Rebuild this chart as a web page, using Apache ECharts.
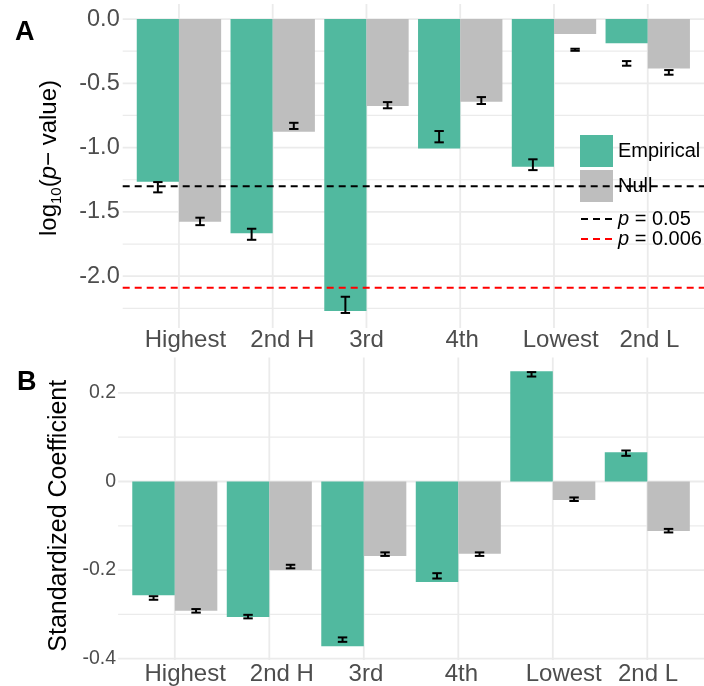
<!DOCTYPE html>
<html><head><meta charset="utf-8">
<script src="https://cdn.jsdelivr.net/npm/echarts@6/dist/echarts.min.js"></script>
<style>html,body{margin:0;padding:0;background:#fff}#c{width:704px;height:686px}</style>
</head><body><div id="c"></div>
<script>
// ---------------- data ----------------
const categories = ['Highest', '2nd H', '3rd', '4th', 'Lowest', '2nd L'];
const seriesNames = ['Empirical', 'Null'];

// Panel A: log10(p-value)
const logpEmpirical = [-1.265, -1.667, -2.270, -1.006, -1.148, -0.189];
const logpNull      = [-1.576, -0.876, -0.677, -0.643, -0.117, -0.384];
const logpEmpiricalErrMid  = [-1.308, -1.674, -2.223, -0.915, -1.133, -0.345];
const logpEmpiricalErrHalf = [0.040, 0.043, 0.063, 0.044, 0.042, 0.018];
const logpNullErrMid  = [-1.574, -0.831, -0.670, -0.634, -0.239, -0.415];
const logpNullErrHalf = [0.029, 0.024, 0.024, 0.027, 0.008, 0.018];
const thresholdNames  = ['p = 0.05', 'p = 0.006'];
const thresholdValues = [-1.30, -2.09];
const yTicksA = [0, -0.5, -1.0, -1.5, -2.0];
const yMinorA = [-0.25, -0.75, -1.25, -1.75, -2.25];

// Panel B: standardized coefficient
const coefEmpirical = [-0.257, -0.306, -0.372, -0.227, 0.249, 0.066];
const coefNull      = [-0.292, -0.200, -0.168, -0.163, -0.042, -0.112];
const coefEmpiricalErrMid  = [-0.263, -0.305, -0.357, -0.213, 0.242, 0.064];
const coefEmpiricalErrHalf = [0.004, 0.004, 0.005, 0.006, 0.005, 0.006];
const coefNullErrMid  = [-0.292, -0.192, -0.164, -0.164, -0.040, -0.111];
const coefNullErrHalf = [0.004, 0.004, 0.004, 0.004, 0.004, 0.004];
const yTicksB = [0.2, 0, -0.2, -0.4];
const yMinorB = [0.1, -0.1, -0.3];

// ---------------- layout / style ----------------
const FONT = '"Liberation Sans", Arial, Helvetica, sans-serif';
const TEAL = '#51B99F', GREY = '#BEBEBE', GRID = '#EBEBEB', AXTXT = '#4D4D4D';
const thresholdColors = ['#000000', '#FF0000'];
const xMin = 0.4, xMax = 6.6;
const barOffset = 0.225, capHalf = 0.05;
const labelPosA = [1.069, 2.103, 3.001, 4.021, 5.072, 6.018];
const labelPosB = [1.110, 2.133, 3.022, 4.032, 5.116, 6.008];
const catPos = categories.map((c, i) => i + 1);

function hGrid(gi, major, minor) {
  const data = major.map(v => [1, v, 1]).concat(minor.map(v => [1, v, 0]));
  return {
    type: 'custom', xAxisIndex: gi, yAxisIndex: gi, z: 0, silent: true, clip: false, data,
    renderItem: (params, api) => {
      const cs = params.coordSys;
      const y = api.coord([1, api.value(1)])[1];
      return { type: 'line', shape: { x1: cs.x, y1: y, x2: cs.x + cs.width, y2: y },
        style: { stroke: GRID, lineWidth: api.value(2) ? 1.8 : 1.2 } };
    }
  };
}
function vGrid(gi) {
  return {
    type: 'custom', xAxisIndex: gi, yAxisIndex: gi, z: 0, silent: true, clip: false,
    data: catPos.map(p => [p, 0]),
    renderItem: (params, api) => {
      const cs = params.coordSys;
      const x = api.coord([api.value(0), 0])[0];
      return { type: 'line', shape: { x1: x, y1: cs.y, x2: x, y2: cs.y + cs.height },
        style: { stroke: GRID, lineWidth: 1.8 } };
    }
  };
}
function bars(gi, name, vals, color) {
  return {
    type: 'bar', name, xAxisIndex: gi, yAxisIndex: gi, z: 2, silent: true,
    barCategoryGap: '10%', barGap: '0%',
    itemStyle: { color }, data: vals.map((v, i) => [catPos[i], v])
  };
}
function errBars(gi, mid, half, offset) {
  return {
    type: 'custom', xAxisIndex: gi, yAxisIndex: gi, z: 4, silent: true,
    data: mid.map((m, i) => [catPos[i], m - half[i], m + half[i]]),
    renderItem: (params, api) => {
      const x = api.value(0) + offset;
      const lo = api.coord([x, api.value(1)]);
      const hi = api.coord([x, api.value(2)]);
      const cl = api.coord([x - capHalf, 0])[0], cr = api.coord([x + capHalf, 0])[0];
      const st = { stroke: '#000', lineWidth: 2 };
      return { type: 'group', children: [
        { type: 'line', shape: { x1: lo[0], y1: lo[1], x2: hi[0], y2: hi[1] }, style: st },
        { type: 'line', shape: { x1: cl, y1: lo[1], x2: cr, y2: lo[1] }, style: st },
        { type: 'line', shape: { x1: cl, y1: hi[1], x2: cr, y2: hi[1] }, style: st }
      ] };
    }
  };
}
function xAx(gi, pos) {
  return {
    gridIndex: gi, type: 'value', min: xMin, max: xMax,
    axisLine: { show: false }, axisTick: { show: false }, splitLine: { show: false },
    axisLabel: { customValues: pos, formatter: v => categories[Math.round(v) - 1],
      fontSize: 24, color: AXTXT, fontFamily: FONT, margin: gi === 0 ? 0 : 2 }
  };
}

const chart = echarts.init(document.getElementById('c'), null, { renderer: 'canvas' });
const option = {
  animation: false,
  textStyle: { fontFamily: FONT },
  title: [
    { text: 'A', left: 15, top: 19, padding: 0, textStyle: { fontSize: 27, fontWeight: 'bold', color: '#000', fontFamily: FONT } },
    { text: 'B', left: 17, top: 369, padding: 0, textStyle: { fontSize: 27, fontWeight: 'bold', color: '#000', fontFamily: FONT } }
  ],
  grid: [
    { left: 122.7, top: 4, width: 584.7, height: 324 },
    { left: 118.1, top: 357.5, width: 590.7, height: 302.5 }
  ],
  xAxis: [xAx(0, labelPosA), xAx(1, labelPosB)],
  yAxis: [
    {
      gridIndex: 0, type: 'value', min: -2.403, max: 0.117,
      axisLine: { show: false }, axisTick: { show: false }, splitLine: { show: false },
      axisLabel: { customValues: yTicksA, formatter: v => v.toFixed(1), fontSize: 23.5, color: AXTXT, fontFamily: FONT, margin: 3 },
      name: 'log{sub|10}({i|p}\u2212 value)', nameLocation: 'middle', nameRotate: 90, nameGap: 58,
      nameTextStyle: { fontSize: 24, lineHeight: 30, color: '#000', fontFamily: FONT, padding: [0, 0, 0, 16],
        rich: { sub: { fontSize: 15, lineHeight: 15, verticalAlign: 'bottom', color: '#000', fontFamily: FONT },
                i: { fontSize: 24, lineHeight: 30, fontStyle: 'italic', color: '#000', fontFamily: FONT } } }
    },
    {
      gridIndex: 1, type: 'value', min: -0.403, max: 0.28,
      axisLine: { show: false }, axisTick: { show: false }, splitLine: { show: false },
      axisLabel: { customValues: yTicksB, formatter: v => (Math.abs(v) < 1e-9 ? '0' : v.toFixed(1)), fontSize: 19.5, color: AXTXT, fontFamily: FONT, margin: 2 },
      name: 'Standardized Coefficient', nameLocation: 'middle', nameRotate: 90, nameGap: 43,
      nameTextStyle: { fontSize: 25, color: '#000', fontFamily: FONT, padding: [0, 14, 0, 0] }
    }
  ],
  legend: [
    { data: seriesNames, orient: 'vertical', left: 580, top: 135, itemWidth: 33, itemHeight: 32, itemGap: 3,
      icon: 'rect', padding: 0, selectedMode: false, textStyle: { fontSize: 20, color: '#000', fontFamily: FONT } },
    { data: thresholdNames, orient: 'vertical', left: 580, top: 209, itemWidth: 32, itemHeight: 12, itemGap: 0,
      padding: 0, selectedMode: false, formatter: n => n.replace(/^p/, '{i|p}'),
      itemStyle: { opacity: 0, borderWidth: 0 },
      textStyle: { fontSize: 20, lineHeight: 19, color: '#000', fontFamily: FONT,
        rich: { i: { fontSize: 20, lineHeight: 19, fontStyle: 'italic', color: '#000', fontFamily: FONT } } } }
  ],
  series: [
    hGrid(0, yTicksA, yMinorA), vGrid(0),
    bars(0, seriesNames[0], logpEmpirical, TEAL),
    bars(0, seriesNames[1], logpNull, GREY),
    errBars(0, logpEmpiricalErrMid, logpEmpiricalErrHalf, -barOffset),
    errBars(0, logpNullErrMid, logpNullErrHalf, barOffset),
    ...thresholdNames.map((n, k) => ({
      type: 'line', name: n, xAxisIndex: 0, yAxisIndex: 0, z: 6, silent: true,
      symbol: 'circle', symbolSize: 0, showSymbol: false,
      data: [[xMin, thresholdValues[k]], [xMax, thresholdValues[k]]],
      itemStyle: { color: thresholdColors[k] },
      lineStyle: { color: thresholdColors[k], width: 2, type: [7, 5] }
    })),
    hGrid(1, yTicksB, yMinorB), vGrid(1),
    bars(1, seriesNames[0] + ' B', coefEmpirical, TEAL),
    bars(1, seriesNames[1] + ' B', coefNull, GREY),
    errBars(1, coefEmpiricalErrMid, coefEmpiricalErrHalf, -barOffset),
    errBars(1, coefNullErrMid, coefNullErrHalf, barOffset)
  ]
};
chart.setOption(option);
</script>
</body></html>
